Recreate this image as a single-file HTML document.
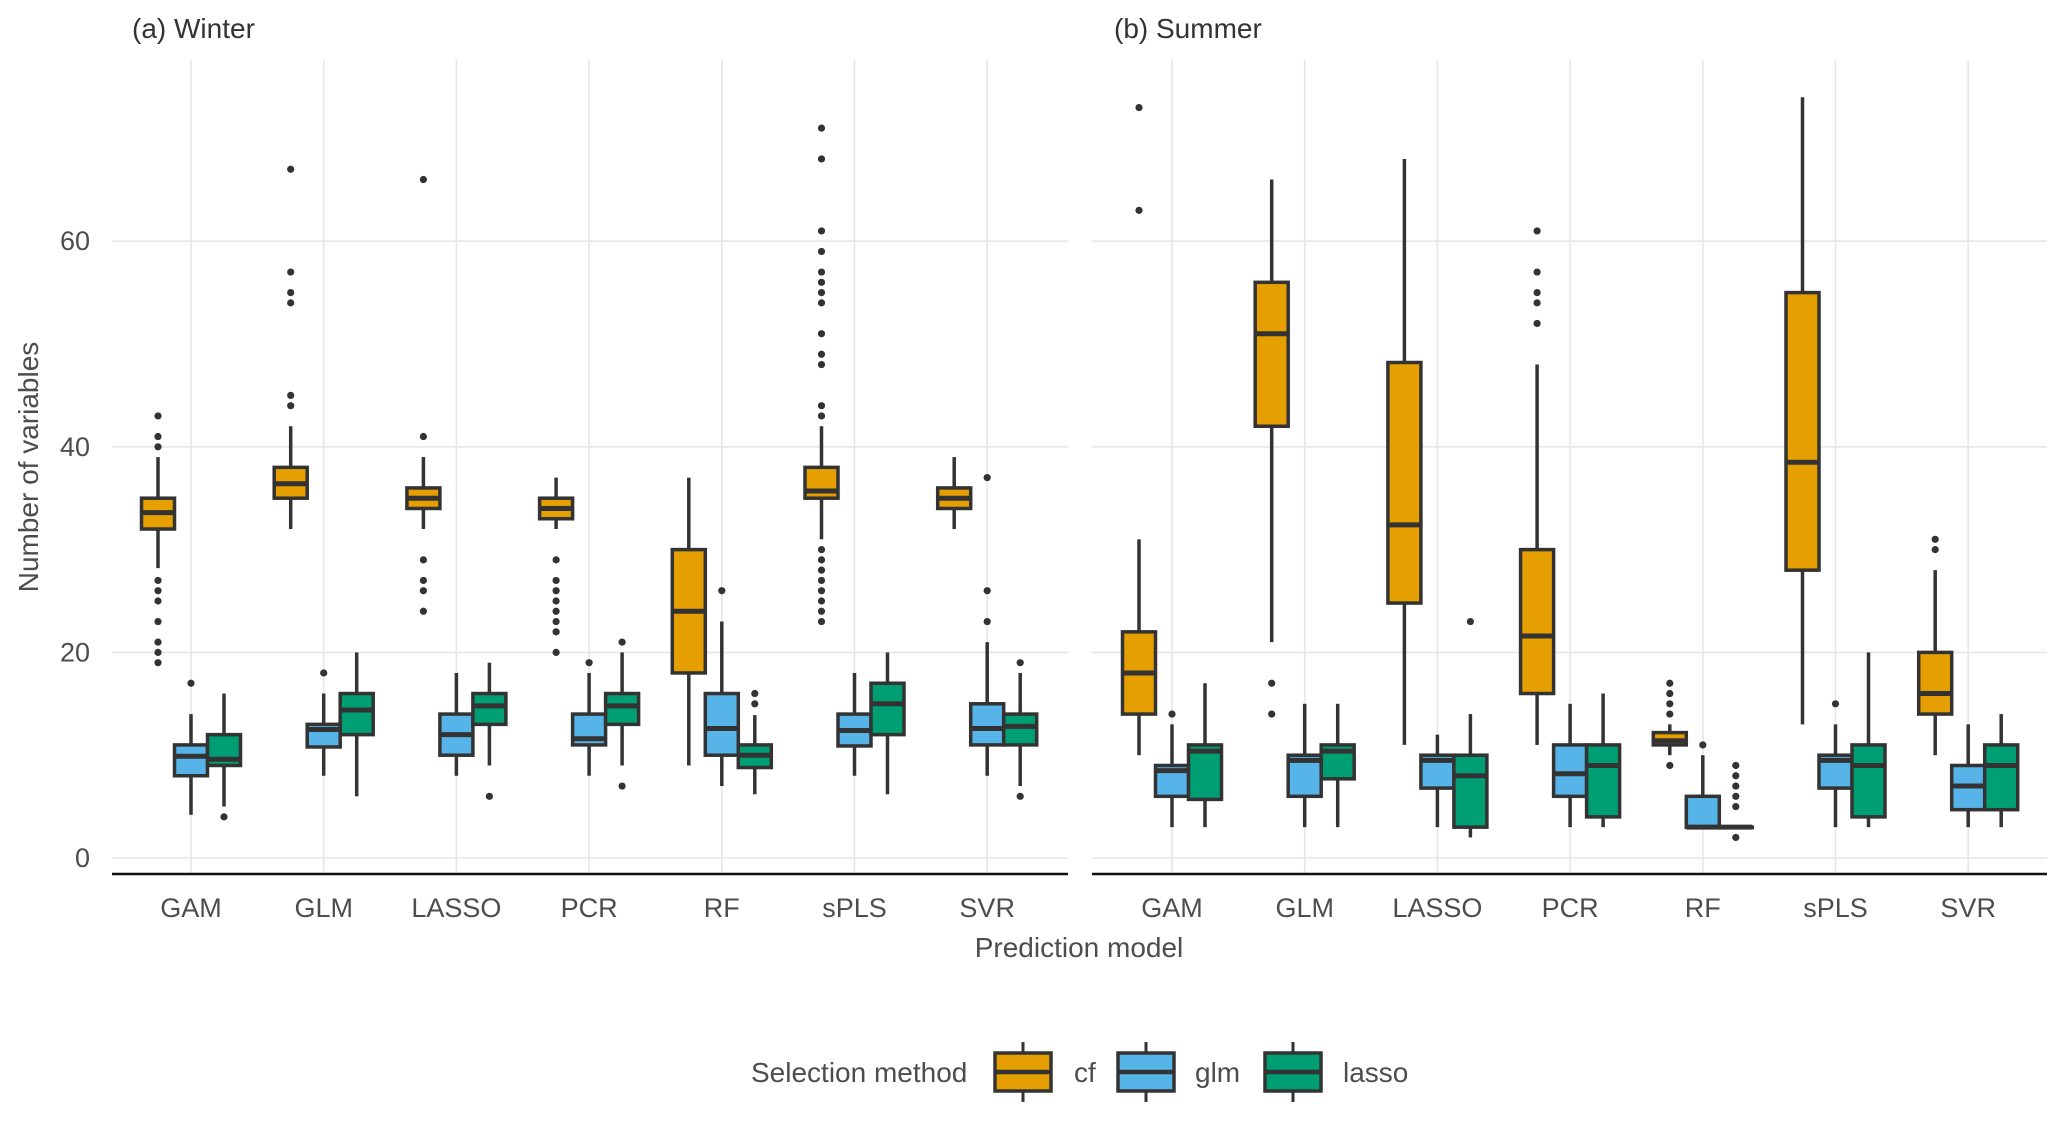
<!DOCTYPE html>
<html><head><meta charset="utf-8">
<style>
body{margin:0;background:#fff;}
svg{display:block;font-family:"Liberation Sans",Arial,sans-serif;}
</style></head>
<body>
<svg id="chart" width="2067" height="1121" viewBox="0 0 2067 1121" xmlns="http://www.w3.org/2000/svg">
<g id="grid"></g>
<g id="marks"></g>
<g id="axes"></g>
<text x="132" y="38" font-size="28" fill="#333">(a) Winter</text>
<text x="1114" y="38" font-size="28" fill="#333">(b) Summer</text>
<text transform="translate(38,467) rotate(-90)" text-anchor="middle" font-size="28" fill="#4d4d4d">Number of variables</text>
<text x="1079" y="957" text-anchor="middle" font-size="28" fill="#4d4d4d">Prediction model</text>
<g id="legend">
<text x="751" y="1082" font-size="28" fill="#4d4d4d">Selection method</text>
</g>
</svg>
<script>
// ---- data ----
const categories = ["GAM","GLM","LASSO","PCR","RF","sPLS","SVR"];
const methods = ["cf","glm","lasso"];
const yTicks = [0,20,40,60];
// five-number stats per category: [lowWhisker, q1, median, q3, highWhisker]
const winterCf = [[28.2,32,33.6,35,39],[32,35,36.4,38,42],[32,34,35,36,39],[32,33,34,35,37],[9,18,24,30,37],[31,35,35.7,38,42],[32,34,35,36,39]];
const winterGlm = [[4.2,8,9.9,11,14],[8,10.8,12.5,13,16],[8,10,12,14,18],[8,11,11.6,14,18],[7,10,12.6,16,23],[8,10.9,12.4,14,18],[8,11,12.6,15,21]];
const winterLasso = [[5,9,9.6,12,16],[6,12,14.4,16,20],[9,13,14.8,16,19],[9,13,14.8,16,20],[6.2,8.8,10,11,13.9],[6.2,12,15,17,20],[7,11,12.8,14,18]];
const winterCfOut = [[43,41,40,27,26,25,23,21,20,19],[67,57,55,54,45,44],[66,41,29,27,26,24],[29,27,26,25,24,23,22,20],[],[71,68,61,59,57,56,55,54,51,49,48,44,43,30,29,28,27,26,25,24,23],[]];
const winterGlmOut = [[17],[18],[],[19],[26],[],[37,26,23]];
const winterLassoOut = [[4],[],[6],[21,7],[16,15],[],[19,6]];
const summerCf = [[10,14,18,22,31],[21,42,51,56,66],[11,24.8,32.4,48.2,68],[11,16,21.6,30,48],[10,11,11.4,12.2,13],[13,28,38.5,55,74],[10,14,16,20,28]];
const summerGlm = [[3,6,8.5,9,13],[3,6,9.5,10,15],[3,6.8,9.5,10,12],[3,6,8.2,11,15],[3,3,3,6,10],[3,6.8,9.5,10,13],[3,4.7,7,9,13]];
const summerLasso = [[3,5.7,10.4,11,17],[3,7.7,10.4,11,15],[2,3,8,10,14],[3,4,9,11,16],[3,3,3,3,3],[3,4,9,11,20],[3,4.7,9,11,14]];
const summerCfOut = [[73,63],[17,14],[],[61,57,55,54,52],[17,16,15,14,9],[],[31,30]];
const summerGlmOut = [[14],[],[],[],[11],[15],[]];
const summerLassoOut = [[],[],[23],[],[9,8,7,6,5,2],[],[]];
const colors = {cf:"#E69F00",glm:"#56B4E9",lasso:"#009E73"};

// ---- scales ----
const NS="http://www.w3.org/2000/svg";
const Y0=858, PX=10.28;
function y(v){return Y0 - v*PX;}
const panels=[{left:112,right:1068,first:191,labels:true,name:"winter",
  stats:[winterCf,winterGlm,winterLasso],outs:[winterCfOut,winterGlmOut,winterLassoOut]},
 {left:1092,right:2047,first:1172,labels:false,name:"summer",
  stats:[summerCf,summerGlm,summerLasso],outs:[summerCfOut,summerGlmOut,summerLassoOut]}];
const STEP=132.7, DODGE=33, BW=33;
function xCat(p,i){return p.first+i*STEP;}
function mk(tag,attrs,parent){const e=document.createElementNS(NS,tag);for(const k in attrs)e.setAttribute(k,attrs[k]);parent.appendChild(e);return e;}
const grid=document.getElementById('grid'), marks=document.getElementById('marks'), axes=document.getElementById('axes');

panels.forEach(p=>{
  yTicks.forEach(t=>{
    const l=mk('line',{x1:p.left,x2:p.right,y1:y(t),y2:y(t),stroke:"#e6e6e6","stroke-width":1.6},grid);
    
    
    if(p.labels){
      const tx=mk('text',{x:90,y:y(t)+9,"text-anchor":"end","font-size":27,fill:"#4d4d4d"},axes);
      tx.textContent=t;
      
      
    }
  });
  categories.forEach((c,i)=>{
    const l=mk('line',{x1:xCat(p,i),x2:xCat(p,i),y1:60,y2:874,stroke:"#e6e6e6","stroke-width":1.6},grid);
    
    
    const tx=mk('text',{x:xCat(p,i),y:917,"text-anchor":"middle","font-size":27,fill:"#4d4d4d"},axes);
    tx.textContent=c;
    
    
  });
  const ax=mk('line',{x1:p.left,x2:p.right,y1:874,y2:874,stroke:"#111","stroke-width":2.4},axes);
  
  

  methods.forEach((m,mi)=>{
    p.stats[mi].forEach((s,i)=>{
      const cx=xCat(p,i)+(mi-1)*DODGE;
      const g=mk('g',{},marks);
      
      
      mk('line',{x1:cx,x2:cx,y1:y(s[0]),y2:y(s[1]),stroke:"#333","stroke-width":3.5},g);
      mk('line',{x1:cx,x2:cx,y1:y(s[3]),y2:y(s[4]),stroke:"#333","stroke-width":3.5},g);
      mk('rect',{x:cx-BW/2,y:y(s[3]),width:BW,height:Math.max(y(s[1])-y(s[3]),0.5),fill:colors[m],stroke:"#333","stroke-width":3.5},g);
      mk('line',{x1:cx-BW/2,x2:cx+BW/2,y1:y(s[2]),y2:y(s[2]),stroke:"#333","stroke-width":5},g);
      p.outs[mi][i].forEach(o=>{
        const d=mk('circle',{cx:cx,cy:y(o),r:3.6,fill:"#333"},g);
        
        
      });
    });
  });
});

// legend
const leg=document.getElementById('legend');
const keyX=[995,1118,1265], txtX=[1074,1195,1343];
methods.forEach((m,i)=>{
  const g=mk('g',{},leg);
  
  
  const cx=keyX[i]+28;
  mk('line',{x1:cx,x2:cx,y1:1042,y2:1102,stroke:"#333","stroke-width":3},g);
  mk('rect',{x:keyX[i],y:1053,width:56,height:38,fill:colors[m],stroke:"#333","stroke-width":3.5},g);
  mk('line',{x1:keyX[i],x2:keyX[i]+56,y1:1072,y2:1072,stroke:"#333","stroke-width":4.5},g);
  const t=mk('text',{x:txtX[i],y:1082,"font-size":28,fill:"#4d4d4d"},g);
  t.textContent=m;
});
</script>
</body></html>
